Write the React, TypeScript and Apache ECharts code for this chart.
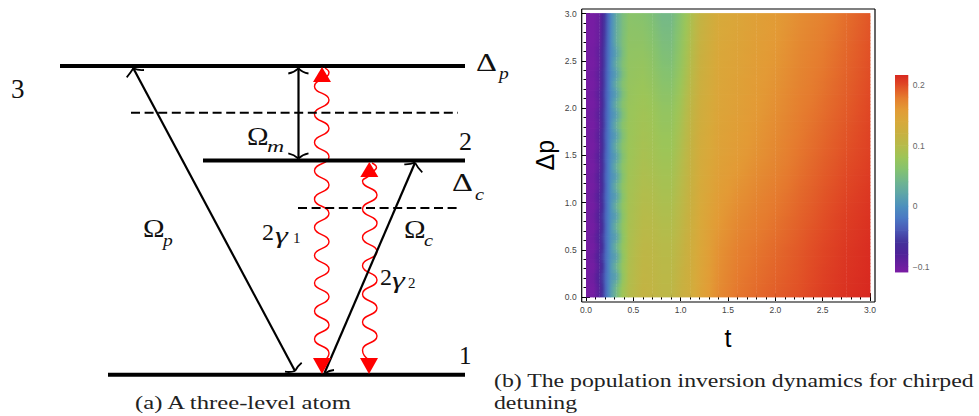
import React, { useEffect, useRef } from "react";
import * as echarts from "echarts";

// --- level scheme (drawn on a hidden axis pair whose units are the picture's scale)
const levelSegments = [
  [60, 66, 465, 66],
  [203, 160.5, 465, 160.5],
  [108, 374.7, 465, 374.7],
];
const dashedSegments = [
  [131, 112.7, 458, 112.7],
  [298, 208, 458, 208],
];
const arrowSegments = [
  [133.3, 68.3, 295, 371],
  [324.5, 373, 415, 162.7],
  [298.5, 68.3, 298.5, 158.3],
];
const arrowHeadArms = [
  [126.7, 77.3, 130.5, 73, 133.3, 68.3],
  [144, 70, 138, 70.5, 133.3, 68.3],
  [301.7, 362.7, 297.5, 366, 295, 371],
  [285, 371.7, 290.5, 372.5, 295, 371],
  [334, 370, 329, 370.5, 325.5, 373],
  [404.3, 164.3, 410, 164.5, 415, 162.7],
  [422.3, 172.3, 418, 168.5, 415, 162.7],
  [288.3, 73.5, 294, 72.5, 298.4, 68.3],
  [308.5, 73.5, 302.5, 72.5, 298.4, 68.3],
  [288.3, 153.3, 294, 154.5, 298.4, 158.5],
  [308.5, 153.3, 302.5, 154.5, 298.4, 158.5],
];
const frameSegments = [
  [581.7, 9, 875, 9],
  [581.7, 302, 875, 302],
  [581.7, 9, 581.7, 302],
  [875, 9, 875, 302],
];
const wave1 = [
  [325, 68], [329, 72.5], [314.5, 86.4], [329, 100], [314.5, 114.2], [329, 128.3], [314.5, 142.5],
  [329, 156.7], [314.5, 170.8], [329, 185], [314.5, 199.2], [329, 213.3], [314.5, 227.5], [329, 241.7],
  [314.5, 255.5], [329, 269.3], [314.5, 283], [329, 296.7], [314.5, 311], [329, 325], [314.5, 339], [329, 353], [325, 360],
];
const wave2 = [
  [372, 163], [376.5, 167.5], [369, 175], [362.5, 181], [377, 195], [362.5, 209], [377, 223.3], [362.5, 237.5],
  [377, 251.6], [362.5, 265.8], [377, 280], [362.5, 294], [377, 308], [362.5, 322], [377, 336], [362.5, 350], [369, 360],
];
const trianglesUp = [[322, 74.5], [369.3, 169.5]];
const trianglesDown = [[322, 366], [369, 366]];

// --- heat map: t columns and Δp rows
const fineTimes = [0, 0.08, 0.14, 0.2, 0.26, 0.32, 0.38, 0.45];
const fineDeltas = [
  0, 0.11, 0.22, 0.33, 0.43, 0.54, 0.64, 0.75, 0.86, 0.965, 1.07, 1.175, 1.28, 1.385, 1.49, 1.6, 1.71, 1.82,
  1.93, 2.04, 2.15, 2.255, 2.36, 2.47, 2.58, 2.69, 2.8, 2.9, 3,
];
const fineValues = [
  [-0.106, -0.102, -0.08, -0.034, 0.012, 0.046, 0.08, 0.098],
  [-0.107, -0.104, -0.084, -0.036, 0.01, 0.044, 0.078, 0.097],
  [-0.105, -0.097, -0.072, -0.032, 0.003, 0.014, 0.066, 0.096],
  [-0.107, -0.104, -0.085, -0.038, 0.008, 0.041, 0.074, 0.094],
  [-0.105, -0.097, -0.072, -0.032, 0.001, 0.014, 0.064, 0.093],
  [-0.107, -0.104, -0.085, -0.038, 0.006, 0.04, 0.072, 0.092],
  [-0.105, -0.097, -0.074, -0.034, 0.0, 0.013, 0.062, 0.091],
  [-0.107, -0.104, -0.086, -0.039, 0.005, 0.039, 0.07, 0.09],
  [-0.105, -0.098, -0.076, -0.035, -0.001, 0.013, 0.06, 0.089],
  [-0.107, -0.104, -0.087, -0.04, 0.004, 0.038, 0.069, 0.088],
  [-0.105, -0.098, -0.078, -0.036, -0.002, 0.012, 0.058, 0.087],
  [-0.107, -0.104, -0.088, -0.041, 0.003, 0.037, 0.068, 0.086],
  [-0.105, -0.099, -0.08, -0.037, -0.003, 0.012, 0.056, 0.085],
  [-0.107, -0.105, -0.089, -0.042, 0.002, 0.036, 0.066, 0.083],
  [-0.106, -0.1, -0.081, -0.038, -0.004, 0.012, 0.054, 0.081],
  [-0.107, -0.105, -0.09, -0.043, 0.001, 0.035, 0.064, 0.08],
  [-0.106, -0.101, -0.083, -0.04, -0.005, 0.012, 0.052, 0.079],
  [-0.107, -0.105, -0.091, -0.044, 0.0, 0.034, 0.063, 0.079],
  [-0.106, -0.101, -0.084, -0.042, -0.006, 0.012, 0.05, 0.078],
  [-0.107, -0.105, -0.092, -0.045, -0.001, 0.033, 0.061, 0.077],
  [-0.106, -0.102, -0.085, -0.043, -0.007, 0.012, 0.049, 0.076],
  [-0.107, -0.105, -0.093, -0.046, -0.002, 0.032, 0.059, 0.075],
  [-0.106, -0.102, -0.087, -0.045, -0.007, 0.012, 0.048, 0.074],
  [-0.107, -0.106, -0.094, -0.048, -0.003, 0.031, 0.056, 0.073],
  [-0.106, -0.103, -0.089, -0.047, -0.008, 0.014, 0.047, 0.072],
  [-0.107, -0.106, -0.095, -0.05, -0.005, 0.03, 0.053, 0.07],
  [-0.107, -0.106, -0.096, -0.052, -0.006, 0.029, 0.05, 0.068],
  [-0.107, -0.106, -0.096, -0.053, -0.007, 0.028, 0.05, 0.066],
  [-0.107, -0.106, -0.096, -0.054, -0.008, 0.027, 0.05, 0.065],
];
const coarseTimes = [0.45, 0.6, 0.7, 0.8, 0.9, 1, 1.1, 1.2, 1.4, 1.6, 1.8, 2, 2.25, 2.5, 2.75, 3];
const coarseDeltas = [0, 0.5, 1, 1.5, 2, 2.5, 3];
const coarseValues = [
  [0.098, 0.115, 0.113, 0.108, 0.108, 0.12, 0.13, 0.147, 0.17, 0.182, 0.187, 0.192, 0.198, 0.206, 0.212, 0.216],
  [0.092, 0.108, 0.107, 0.102, 0.102, 0.113, 0.127, 0.143, 0.165, 0.176, 0.182, 0.187, 0.194, 0.202, 0.209, 0.214],
  [0.087, 0.098, 0.097, 0.092, 0.092, 0.104, 0.12, 0.138, 0.157, 0.167, 0.174, 0.18, 0.188, 0.196, 0.204, 0.21],
  [0.08, 0.09, 0.087, 0.082, 0.082, 0.096, 0.115, 0.133, 0.15, 0.158, 0.165, 0.172, 0.182, 0.19, 0.198, 0.205],
  [0.077, 0.083, 0.08, 0.072, 0.072, 0.086, 0.108, 0.127, 0.146, 0.153, 0.16, 0.167, 0.177, 0.185, 0.193, 0.202],
  [0.072, 0.074, 0.068, 0.058, 0.056, 0.074, 0.098, 0.12, 0.143, 0.149, 0.156, 0.162, 0.172, 0.18, 0.189, 0.198],
  [0.065, 0.062, 0.055, 0.045, 0.045, 0.065, 0.09, 0.113, 0.138, 0.145, 0.152, 0.158, 0.168, 0.175, 0.185, 0.195],
];

// --- colour scale
const scaleValues = [-0.109, -0.1, -0.08, -0.06, -0.04, -0.02, 0, 0.02, 0.04, 0.06, 0.08, 0.1, 0.12, 0.14, 0.16, 0.18, 0.2, 0.216];
const scaleColors = [
  "#7a1ca4", "#6e1ea0", "#4f2198", "#43309a", "#4a57b5", "#4a78c4", "#4d90bd", "#5ea5a8", "#6fb590", "#84c270",
  "#9cc558", "#b6bb4a", "#c8b040", "#d8a93a", "#e39a35", "#e57a2e", "#e04a25", "#d82820",
];
const scaleTicks: Record<string, string> = { "-0.1": "\u22120.1", "0": "0", "0.1": "0.1", "0.2": "0.2" };

function colorOf(v: number): string {
  if (v <= scaleValues[0]) return scaleColors[0];
  for (let i = 1; i < scaleValues.length; i++) {
    if (v <= scaleValues[i]) {
      const f = (v - scaleValues[i - 1]) / (scaleValues[i] - scaleValues[i - 1]);
      return echarts.color.lerp(f, [scaleColors[i - 1], scaleColors[i]]) as string;
    }
  }
  return scaleColors[scaleColors.length - 1];
}

function cells(times: number[], deltas: number[], table: number[][]) {
  const out: number[][] = [];
  for (let r = 0; r < deltas.length - 1; r++)
    for (let c = 0; c < times.length - 1; c++)
      out.push([times[c], deltas[r], times[c + 1], deltas[r + 1], table[r][c], table[r][c + 1], table[r + 1][c], table[r + 1][c + 1]]);
  return out;
}

function renderCell(_: any, api: any) {
  const p0 = api.coord([api.value(0), api.value(1)]);
  const p1 = api.coord([api.value(2), api.value(3)]);
  const [v00, v10, v01, v11] = [api.value(4), api.value(5), api.value(6), api.value(7)];
  const h = p0[1] - p1[1];
  const strips = Math.max(1, Math.round(h / 3.5));
  const children: any[] = [];
  for (let i = 0; i < strips; i++) {
    const f = (i + 0.5) / strips;
    const a = v00 + (v01 - v00) * f;
    const b = v10 + (v11 - v10) * f;
    children.push({
      type: "rect",
      shape: { x: p0[0], y: p0[1] - (h * (i + 1)) / strips - 0.4, width: p1[0] - p0[0] + 0.4, height: h / strips + 0.8 },
      style: {
        fill: new echarts.graphic.LinearGradient(0, 0, 1, 0, [
          { offset: 0, color: colorOf(a) },
          { offset: 0.5, color: colorOf((a + b) / 2) },
          { offset: 1, color: colorOf(b) },
        ]),
      },
    });
  }
  return { type: "group", children };
}

function renderBar(_: any, api: any) {
  const a = api.coord([0, api.value(1)]);
  const b = api.coord([1, api.value(2)]);
  return {
    type: "rect",
    shape: { x: a[0], y: b[1] - 0.3, width: b[0] - a[0], height: a[1] - b[1] + 0.6 },
    style: {
      fill: new echarts.graphic.LinearGradient(0, 0, 0, 1, [
        { offset: 0, color: colorOf(api.value(2)) },
        { offset: 1, color: colorOf(api.value(1)) },
      ]),
    },
  };
}

const segSeries = (data: number[][], lineStyle: any, z = 3) => ({
  type: "custom",
  xAxisIndex: 0,
  yAxisIndex: 0,
  coordinateSystem: "cartesian2d",
  clip: false,
  silent: true,
  z,
  encode: { x: 0, y: 1 },
  data,
  renderItem: (_: any, api: any) => {
    const a = api.coord([api.value(0), api.value(1)]);
    const b = api.coord([api.value(2), api.value(3)]);
    return { type: "line", shape: { x1: a[0], y1: a[1], x2: b[0], y2: b[1] }, style: { stroke: "#000", fill: "none", ...lineStyle } };
  },
});

const waveSeries = (data: number[][]) => ({
  type: "line",
  xAxisIndex: 0,
  yAxisIndex: 0,
  data,
  smooth: 0.55,
  smoothMonotone: "y",
  showSymbol: false,
  silent: true,
  clip: false,
  z: 2,
  lineStyle: { color: "#ff0000", width: 1.4 },
});

const triSeries = (data: number[][], rotate: number, size: number[]) => ({
  type: "scatter",
  xAxisIndex: 0,
  yAxisIndex: 0,
  data,
  symbol: "triangle",
  symbolSize: size,
  symbolRotate: rotate,
  silent: true,
  z: 5,
  itemStyle: { color: "#ff0000", opacity: 1 },
});

const serif = '"Liberation Serif", "DejaVu Serif", serif';
const txt = (text: string, x: number, y: number, size: number, italic = false, scaleX = 1, color = "#111") => ({
  type: "text",
  x,
  y,
  scaleX,
  silent: true,
  z: 10,
  style: {
    text,
    fill: color,
    font: `${italic ? "italic " : ""}${size}px ${serif}`,
    textAlign: "left",
    textVerticalAlign: "middle",
  },
});

const tickStyle = { color: "#000", width: 1 };
const heatAxisBase = {
  type: "value",
  min: 0,
  max: 3,
  interval: 0.5,
  gridIndex: 1,
  axisLine: { show: false },
  splitLine: { show: false },
  minorSplitLine: { show: false },
  axisTick: { show: true, inside: true, length: 4, lineStyle: tickStyle },
  minorTick: { show: true, splitNumber: 5, length: 2.5, lineStyle: tickStyle },
};
const tickLabel = {
  fontFamily: '"Liberation Sans", sans-serif',
  fontSize: 8.5,
  color: "#444",
  formatter: (v: number) => v.toFixed(1),
};
const titleStyle = { fontFamily: '"Liberation Sans", sans-serif', fontSize: 25, color: "#000" };

export default function App() {
  const ref = useRef<HTMLDivElement>(null);
  useEffect(() => {
    const chart = echarts.init(ref.current!, undefined, { renderer: "svg" });
    chart.setOption({
      animation: false,
      backgroundColor: "#fff",
      grid: [
        { left: 0, top: 0, width: 979, height: 416 },
        { left: 586, top: 13.5, width: 284, height: 283.5 },
        { left: 895, top: 85, width: 13.3, height: 181.7 },
      ],
      xAxis: [
        { type: "value", min: 0, max: 979, gridIndex: 0, show: false },
        {
          ...heatAxisBase,
          position: "bottom",
          offset: 5,
          axisLabel: { ...tickLabel, margin: 3 },
          name: "t",
          nameLocation: "middle",
          nameGap: 23,
          nameTextStyle: titleStyle,
        },
        { ...heatAxisBase, position: "top", offset: 4.5, axisLabel: { show: false } },
        { type: "value", min: 0, max: 1, gridIndex: 2, show: false },
      ],
      yAxis: [
        { type: "value", min: 0, max: 416, inverse: true, gridIndex: 0, show: false },
        {
          ...heatAxisBase,
          position: "left",
          offset: 4.3,
          axisLabel: { ...tickLabel, margin: 5 },
          name: "\u0394p",
          nameLocation: "middle",
          nameGap: 24,
          nameRotate: 90,
          nameTextStyle: titleStyle,
        },
        { ...heatAxisBase, position: "right", offset: 5, axisLabel: { show: false } },
        {
          type: "value",
          min: -0.1,
          max: 0.2,
          interval: 0.1,
          gridIndex: 2,
          position: "right",
          axisLine: { show: false },
          splitLine: { show: false },
          axisTick: { show: true, length: 3, lineStyle: { color: "#ccc", width: 1 } },
          axisLabel: {
            margin: 4.5,
            fontFamily: '"Liberation Sans", sans-serif',
            fontSize: 8.5,
            color: "#666",
            formatter: (v: number) => scaleTicks[String(Math.round(v * 10) / 10)] ?? "",
          },
        },
      ],
      series: [
        {
          type: "custom",
          xAxisIndex: 1,
          yAxisIndex: 1,
          clip: false,
          silent: true,
          encode: { x: 0, y: 1 },
          data: cells(fineTimes, fineDeltas, fineValues),
          renderItem: renderCell,
        },
        {
          type: "custom",
          xAxisIndex: 1,
          yAxisIndex: 1,
          clip: false,
          silent: true,
          encode: { x: 0, y: 1 },
          data: cells(coarseTimes, coarseDeltas, coarseValues),
          renderItem: renderCell,
        },
        {
          type: "custom",
          xAxisIndex: 3,
          yAxisIndex: 3,
          clip: false,
          silent: true,
          encode: { x: 0, y: 1 },
          data: scaleValues.slice(1).map((v, i) => [0, scaleValues[i], v]),
          renderItem: renderBar,
        },
        waveSeries(wave1),
        waveSeries(wave2),
        segSeries(levelSegments, { lineWidth: 4 }, 4),
        segSeries(dashedSegments, { lineWidth: 2, lineDash: [9, 4.6] }, 3),
        segSeries(arrowSegments, { lineWidth: 2.2 }, 3),
        segSeries(frameSegments, { lineWidth: 1.2 }, 6),
        {
          type: "custom",
          xAxisIndex: 0,
          yAxisIndex: 0,
          clip: false,
          silent: true,
          z: 4,
          encode: { x: 0, y: 1 },
          data: arrowHeadArms,
          renderItem: (_: any, api: any) => {
            const a = api.coord([api.value(0), api.value(1)]);
            const c = api.coord([api.value(2), api.value(3)]);
            const t = api.coord([api.value(4), api.value(5)]);
            return {
              type: "bezierCurve",
              shape: { x1: a[0], y1: a[1], cpx1: c[0], cpy1: c[1], x2: t[0], y2: t[1] },
              style: { stroke: "#000", fill: "none", lineWidth: 1.8 },
            };
          },
        },
        triSeries(trianglesUp, 0, [18, 15]),
        triSeries(trianglesDown, 180, [18, 16]),
      ],
      graphic: [
        txt("3", 11, 89, 27),
        txt("2", 459, 141, 26),
        txt("1", 459, 355, 25),
        txt("\u0394", 476, 62, 26, false, 1.25),
        txt("p", 499, 73, 17, true, 1.15),
        txt("\u0394", 452, 182, 26, false, 1.25),
        txt("c", 475, 194, 17, true, 1.2),
        txt("\u03a9", 247, 136, 26, false, 1.12),
        txt("m", 267, 146, 17, true, 1.4),
        txt("\u03a9", 143, 228, 26, false, 1.12),
        txt("p", 163, 240, 17, true, 1.15),
        txt("\u03a9", 404, 229, 26, false, 1.12),
        txt("c", 424, 240, 17, true, 1.2),
        txt("2", 262, 232, 24),
        txt("\u03b3", 275, 235, 24, true, 1.35),
        txt("1", 293, 238, 15),
        txt("2", 380, 277, 24),
        txt("\u03b3", 392, 280, 24, true, 1.35),
        txt("2", 408, 283, 15),
        txt("(a) A three-level atom", 135, 402.5, 19, false, 1.3, "#222"),
        txt("(b) The population inversion dynamics for chirped", 494, 380.5, 19, false, 1.25, "#222"),
        txt("detuning", 494, 403, 19, false, 1.25, "#222"),
      ],
    });
    return () => chart.dispose();
  }, []);
  return <div ref={ref} style={{ position: "absolute", left: 0, top: 0, width: 979, height: 416 }} />;
}
